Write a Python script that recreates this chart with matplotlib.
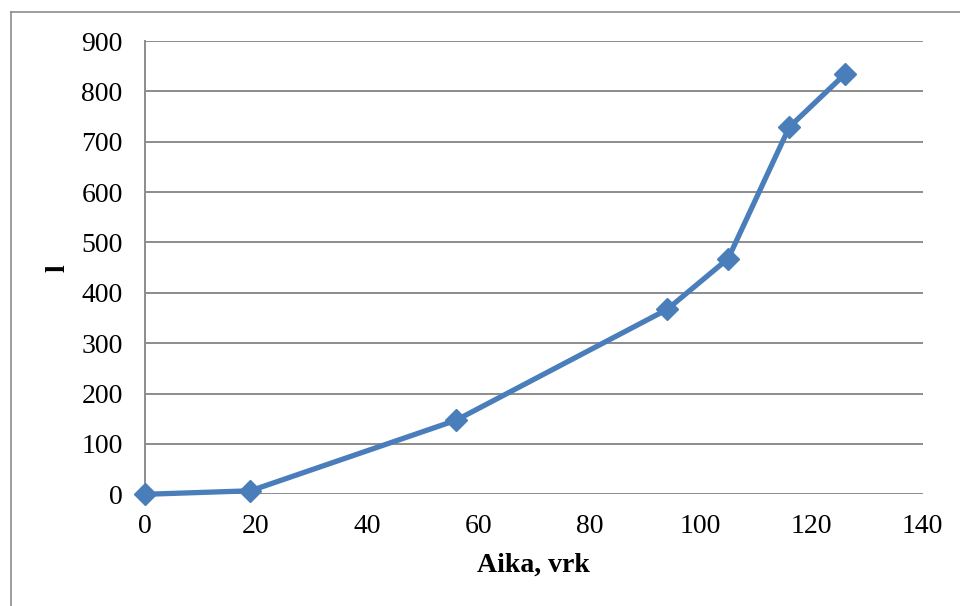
import matplotlib.pyplot as plt
from matplotlib.lines import Line2D

# values
aika = [0, 19, 56, 94, 105, 116, 126]
litrat = [0, 7, 147, 367, 468, 729, 834]
x_ticks = [0, 20, 40, 60, 80, 100, 120, 140]
y_ticks = [0, 100, 200, 300, 400, 500, 600, 700, 800, 900]

plt.rcParams['font.family'] = ['Liberation Serif', 'DejaVu Serif']

fig = plt.figure(figsize=(9.6, 6.06), dpi=100)
ax = fig.add_axes([0.151, 0.1843, 0.81, 0.748])

ax.plot(aika, litrat, color='#4a7ebb', linewidth=3.8, marker='D',
        markersize=11.5, markerfacecolor='#4a7ebb', markeredgecolor='#4a7ebb',
        zorder=3, clip_on=False)

ax.set_xlim(0, 140)
ax.set_ylim(0, 900)
ax.set_xticks(x_ticks)
ax.set_yticks(y_ticks)
ax.tick_params(length=0, labelsize=20)
ax.tick_params(axis='x', pad=14)
ax.tick_params(axis='y', pad=16)
ax.grid(axis='y', color='#8c8c8c', linewidth=1.4)
ax.set_axisbelow(True)

for s in ['top', 'right', 'bottom']:
    ax.spines[s].set_visible(False)
ax.spines['left'].set_color('#8c8c8c')
ax.spines['left'].set_linewidth(1.4)

ax.set_xlabel('Aika, vrk', fontsize=20, fontweight='bold', labelpad=10)
ax.set_ylabel('l', fontsize=20, fontweight='bold', labelpad=8)

# outer chart frame (only top and left edges visible)
fig.add_artist(Line2D([11 / 960, 11 / 960], [0, 1 - 12 / 606],
                      color='#8c8c8c', linewidth=1.2))
fig.add_artist(Line2D([11 / 960, 1], [1 - 12 / 606, 1 - 12 / 606],
                      color='#8c8c8c', linewidth=1.2))

fig.savefig('out.png', dpi=100)
